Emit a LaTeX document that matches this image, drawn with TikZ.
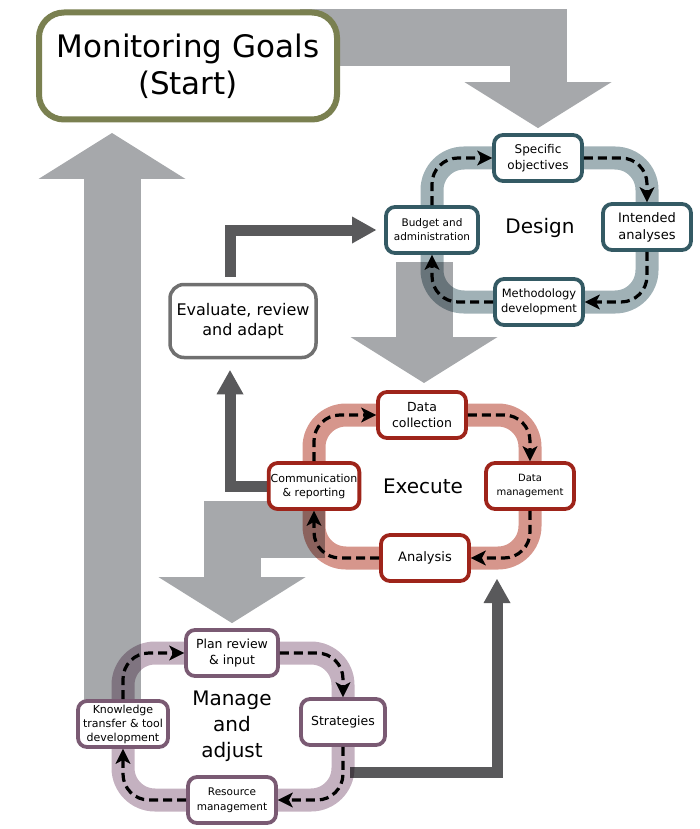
\documentclass[tikz,border=0pt]{standalone}
\usepackage{fontspec}
\setmainfont{DejaVu Sans}
\usetikzlibrary{arrows.meta}

\definecolor{goalgreen}{RGB}{122,128,80}
\definecolor{biggray}{RGB}{166,168,171}
\definecolor{darkarrow}{RGB}{89,89,91}
\definecolor{evalgray}{RGB}{112,112,112}
\definecolor{designteal}{RGB}{52,90,100}
\definecolor{designring}{RGB}{160,177,182}
\definecolor{execred}{RGB}{158,36,26}
\definecolor{execring}{RGB}{214,150,140}
\definecolor{managepurple}{RGB}{122,90,115}
\definecolor{managering}{RGB}{196,177,192}

\pgfdeclarelayer{arrowlayer}
\pgfdeclarelayer{ringlayer}
\pgfsetlayers{arrowlayer,ringlayer,main}

\tikzset{
  stepbox/.style={draw, fill=white, line width=3.8pt, rounded corners=9pt,
    align=center, minimum width=88pt, minimum height=46pt, inner sep=2pt},
  designstep/.style={stepbox, draw=designteal},
  execstep/.style={stepbox, draw=execred},
  managestep/.style={stepbox, draw=managepurple},
  ring/.style={line width=23pt, rounded corners=32pt},
  loopline/.style={black, line width=3.2pt, dash pattern=on 9pt off 5pt,
    rounded corners=26pt, -{Stealth[length=15pt,width=15pt,inset=4pt,line width=0.5pt]}},
  bigarrow/.style={draw=biggray, line width=57pt, line join=miter,
    -{Triangle[length=46pt,width=147pt,line width=0pt]}},
  darkline/.style={draw=darkarrow, line width=11pt, line join=miter,
    -{Triangle[length=24pt,width=27pt,line width=0pt]}},
  steplabel/.style={align=center, font=\fontsize{20}{26}\selectfont}
}

\begin{document}
\begin{tikzpicture}[x=1pt,y=-1pt]
\useasboundingbox (0,0) rectangle (700,829);

% start and evaluate
\node[draw=goalgreen, fill=white, line width=6pt, rounded corners=25pt, align=center,
  minimum width=298pt, minimum height=107pt,
  font=\fontsize{31}{37}\selectfont] (start) at (188,66) {Monitoring Goals\\(Start)};
\node[draw=evalgray, fill=white, line width=3.5pt, rounded corners=14pt, align=center,
  minimum width=146pt, minimum height=73pt,
  font=\fontsize{16}{20}\selectfont] (eval) at (243,321) {Evaluate, review\\and adapt};

% Design
\node[steplabel] (design) at (540,228) {Design};
\node[designstep, font=\fontsize{12}{16}\selectfont] (spec) at (538,158) {Specific\\objectives};
\node[designstep, font=\fontsize{13}{17}\selectfont] (intend) at (647,227) {Intended\\analyses};
\node[designstep, font=\fontsize{11.5}{15.5}\selectfont] (method) at (539,302) {Methodology\\development};
\node[designstep, font=\fontsize{10.5}{14}\selectfont, minimum width=92pt] (budget) at (432,230) {Budget and\\administration};

% Execute
\node[steplabel] (execute) at (423,486) {Execute};
\node[execstep, font=\fontsize{12.5}{16}\selectfont] (dcol) at (422,415) {Data\\collection};
\node[execstep, font=\fontsize{10}{14}\selectfont] (dman) at (530,486) {Data\\management};
\node[execstep, font=\fontsize{13}{16}\selectfont] (anal) at (425,558) {Analysis};
\node[execstep, font=\fontsize{11}{14}\selectfont] (comm) at (314,486) {Communication\\\& reporting};

% Manage and adjust
\node[steplabel] (manage) at (232,726) {Manage\\and\\adjust};
\node[managestep, font=\fontsize{12.5}{16}\selectfont, minimum width=92pt] (plan) at (232,653) {Plan review\\\& input};
\node[managestep, font=\fontsize{12.5}{16}\selectfont, minimum width=84pt] (strat) at (343,722) {Strategies};
\node[managestep, font=\fontsize{10.5}{15}\selectfont] (res) at (232,800) {Resource\\management};
\node[managestep, font=\fontsize{11}{14}\selectfont, minimum width=90pt] (know) at (123,724) {Knowledge\\transfer \& tool\\development};

\coordinate (g1) at (300,38);
\coordinate (g2) at (424,262);
\coordinate (g2tip) at (424,383);
\coordinate (g3) at (325,529);
\coordinate (g4) at (112,705);
\coordinate (g4tip) at (112,133);
\coordinate (m2a) at (350,772);
\coordinate (a2tip) at (497,579);

\begin{pgfonlayer}{arrowlayer}
\draw[bigarrow, shorten >=5pt] (g1) -| (spec.north);
\draw[bigarrow] (g2) -- (g2tip);
\draw[bigarrow, shorten >=5pt] (g3) -| (plan.north);
\draw[bigarrow] (g4) -- (g4tip);
\draw[darkline, shorten <=6pt, shorten >=8pt] ([xshift=-13pt]eval.north) |- (budget);
\draw[darkline, shorten >=11pt] (comm) -| ([xshift=-13pt]eval.south);
\draw[darkline] (m2a) -| (a2tip);
\end{pgfonlayer}

\begin{pgfonlayer}{ringlayer}
\begin{scope}[blend mode=multiply]
\draw[ring, draw=designring] (budget.center |- spec.center) rectangle (intend.center |- method.center);
\draw[ring, draw=execring] (comm.center |- dcol.center) rectangle (dman.center |- anal.center);
\draw[ring, draw=managering] (know.center |- plan.center) rectangle (strat.center |- res.center);
\end{scope}
\end{pgfonlayer}

\draw[loopline] (budget) |- (spec);
\draw[loopline] (spec) -| (intend);
\draw[loopline] (intend) |- (method);
\draw[loopline] (method) -| (budget);
\draw[loopline] (comm) |- (dcol);
\draw[loopline] (dcol) -| (dman);
\draw[loopline] (dman) |- (anal);
\draw[loopline] (anal) -| (comm);
\draw[loopline] (know) |- (plan);
\draw[loopline] (plan) -| (strat);
\draw[loopline] (strat) |- (res);
\draw[loopline] (res) -| (know);
\end{tikzpicture}
\end{document}
